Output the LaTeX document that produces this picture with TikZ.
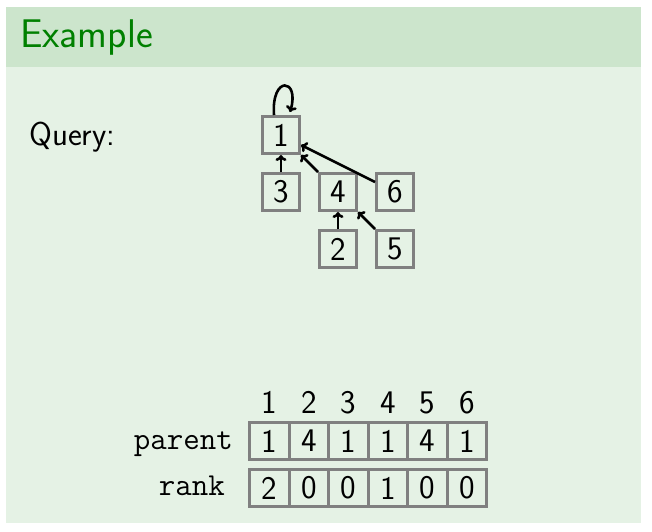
\documentclass[tikz,border=0pt]{standalone}
\usepackage{fontspec}
\setsansfont{lmsans17-regular.otf}
\usetikzlibrary{arrows.meta}
\definecolor{hdrbg}{RGB}{204,229,204}
\definecolor{bodybg}{RGB}{229,242,229}
\definecolor{titlegreen}{RGB}{0,128,0}
\definecolor{boxgray}{RGB}{128,128,128}
\newcommand{\normtxt}{\fontsize{33}{38}\selectfont\sffamily}
\newcommand{\tttxt}{\fontsize{32}{38}\selectfont\ttfamily}
\begin{document}
\begin{tikzpicture}[x=1pt,y=-1pt,
  gbox/.style={draw=boxgray, line width=3pt, minimum size=37pt, inner sep=0pt, font=\normtxt},
  cellbox/.style={draw=boxgray, line width=3pt, minimum width=39.5pt, minimum height=37pt, inner sep=0pt, font=\normtxt},
  arr/.style={-{To[length=6pt,width=11pt]}, line width=2.6pt, black},
  lbl/.style={inner sep=0pt}]
\useasboundingbox (0,0) rectangle (652,531);
\fill[white] (0,0) rectangle (652,531);
\fill[hdrbg] (6,7) rectangle (641,67);
\fill[bodybg] (6,67) rectangle (641,523);
\node[lbl, anchor=base west, font=\fontsize{40}{46}\selectfont\sffamily, text=titlegreen] (title) at (20,47) {Example};
\node[lbl, anchor=base west, font=\normtxt] (query) at (29,145) {Query:};
% union-find forest
\node[gbox] (n1) at (281,135) {1};
\node[gbox] (n3) at (281,192) {3};
\node[gbox] (n4) at (338,192) {4};
\node[gbox] (n6) at (395,192) {6};
\node[gbox] (n2) at (338,249) {2};
\node[gbox] (n5) at (395,249) {5};
\draw[arr] ([xshift=-7pt]n1.north) .. controls +(-3,-40) and +(10,-34) .. ([xshift=9pt,yshift=3pt]n1.north);
\draw[arr] (n3) -- (n1);
\draw[arr] (n4) -- (n1);
\draw[arr] (n6) -- (n1);
\draw[arr] (n2) -- (n4);
\draw[arr] (n5) -- (n4);
% arrays
\foreach \i/\p/\r in {1/1/2, 2/4/0, 3/1/0, 4/1/1, 5/4/0, 6/1/0} {
  \pgfmathsetmacro{\cx}{269.25+39.5*(\i-1)}
  \node[lbl, anchor=base, font=\normtxt] (h\i) at (\cx,413) {\i};
  \node[cellbox] (p\i) at (\cx,441) {\p};
  \node[cellbox] (r\i) at (\cx,488) {\r};
}
\node[lbl, anchor=base east, font=\tttxt] (parentlbl) at (233,449) {parent};
\node[lbl, anchor=base east, font=\tttxt] (ranklbl) at (225,495) {rank};
\end{tikzpicture}
\end{document}
